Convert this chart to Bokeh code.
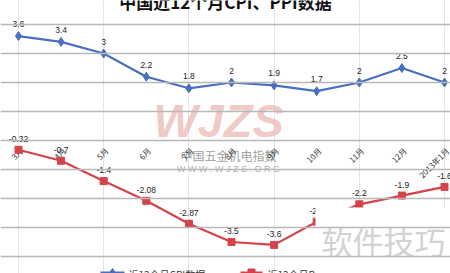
import math
from bokeh.plotting import figure
from bokeh.models import Range1d, Span, ColumnDataSource
from bokeh.core.properties import value
from bokeh.embed import file_html
from bokeh.resources import INLINE

# ---- data ----
months = ["3月", "4月", "5月", "6月", "7月", "8月", "9月", "10月", "11月", "12月", "2013年1月"]
cpi = [3.6, 3.4, 3.0, 2.2, 1.8, 2.0, 1.9, 1.7, 2.0, 2.5, 2.0]
ppi = [-0.32, -0.7, -1.4, -2.08, -2.87, -3.5, -3.6, -2.8, -2.2, -1.9, -1.6]
grid_levels = [4, 3, 2, 1, 0, -1, -2, -3, -4]
title_text = "中国近12个月CPI、PPI数据"
cpi_name = "近12个月CPI数据"
ppi_name = "近12个月PPI数据"

W, H = 450, 273
FONT = "Noto Sans CJK SC"
BLUE = "#4a6fbf"
RED = "#d4434a"

# Plot is cropped: category spacing ~42.6px, first category at 18px; 1 unit ~29px, zero at 140px
xs, xe = -18 / 42.6, (W - 18) / 42.6
ys, ye = (140 - H) / 29.0, 140 / 29.0

def px2x(px):
    return xs + px / W * (xe - xs)

def py2y(py):
    return ye - py / H * (ye - ys)

p = figure(width=W, height=H, output_backend="svg", toolbar_location=None,
           x_range=Range1d(xs, xe), y_range=Range1d(ys, ye),
           x_axis_location=None, y_axis_location=None, min_border=0)
p.outline_line_color = None
p.background_fill_color = "white"
p.border_fill_color = "white"

for g in grid_levels:
    p.add_layout(Span(location=g, dimension="width", line_color="#b8b8b8", line_width=1.3))

xi = list(range(len(months)))

# watermark logo (behind data)
p.text(x=[px2x(218)], y=[py2y(120)], text=["WJZS"], text_font=value("Liberation Sans"),
       text_font_style="bold italic", text_font_size="47px", text_color="#e7a79f",
       text_alpha=0.6, text_align="center", text_baseline="middle")
p.text(x=[px2x(228)], y=[py2y(155)], text=["中国五金机电指数"], text_font=value(FONT),
       text_font_size="12px", text_color="#a0a0a0", text_align="center", text_baseline="middle")
p.text(x=[px2x(228)], y=[py2y(168)], text=["W W W . W J Z S . O R G"], text_font=value("Liberation Sans"),
       text_font_size="9px", text_color="#b0b0b0", text_align="center", text_baseline="middle")

# category labels (rotated, sitting under the zero line)
p.text(x=xi, y=[-0.3] * len(xi), text=months, angle=math.pi / 4,
       text_font=value(FONT), text_font_size="8px", text_color="#333333",
       text_align="right", text_baseline="middle", x_offset=3)

src_c = ColumnDataSource(dict(x=xi, y=cpi, t=[f"{v:g}" for v in cpi]))
src_p = ColumnDataSource(dict(x=xi, y=ppi, t=[f"{v:g}" for v in ppi]))

p.line("x", "y", source=src_c, line_color=BLUE, line_width=2.2)
p.scatter("x", "y", source=src_c, marker="diamond", size=9, fill_color=BLUE, line_color=BLUE)
p.line("x", "y", source=src_p, line_color=RED, line_width=2.2)
p.scatter("x", "y", source=src_p, marker="square", size=7, fill_color=RED, line_color=RED)

p.text("x", "y", text="t", source=src_c, text_font=value("Liberation Sans"), text_font_size="8.5px",
       text_color="#222222", text_align="center", text_baseline="bottom", y_offset=-9)
p.text("x", "y", text="t", source=src_p, text_font=value("Liberation Sans"), text_font_size="8.5px",
       text_color="#222222", text_align="center", text_baseline="bottom", y_offset=-8)

# title (cropped at top)
p.text(x=[px2x(225)], y=[py2y(13)], text=[title_text], text_font=value(FONT),
       text_font_style="bold", text_font_size="17px", text_color="#111111",
       text_align="center", text_baseline="bottom")

# legend (cropped at bottom)
ly = py2y(272)
p.line(x=[px2x(100), px2x(124)], y=[ly, ly], line_color=BLUE, line_width=2)
p.scatter(x=[px2x(112)], y=[ly], marker="diamond", size=8, fill_color=BLUE, line_color=BLUE)
p.text(x=[px2x(128)], y=[py2y(266)], text=[cpi_name], text_font=value(FONT), text_font_size="10px",
       text_color="#333333", text_align="left", text_baseline="top")
p.line(x=[px2x(240), px2x(262)], y=[ly, ly], line_color=RED, line_width=2)
p.scatter(x=[px2x(251)], y=[ly], marker="square", size=7, fill_color=RED, line_color=RED)
p.text(x=[px2x(267)], y=[py2y(266)], text=[ppi_name], text_font=value(FONT), text_font_size="10px",
       text_color="#333333", text_align="left", text_baseline="top")

# overlay white box with watermark text
p.quad(left=[px2x(315)], right=[px2x(452)], top=[py2y(207)], bottom=[py2y(275)],
       fill_color="white", line_color=None)
p.text(x=[px2x(383)], y=[py2y(240)], text=["软件技巧"], text_font=value(FONT),
       text_font_size="31px", text_color="#d2d2d2", text_align="center", text_baseline="middle")

open("out.html", "w").write(file_html(p, INLINE))
